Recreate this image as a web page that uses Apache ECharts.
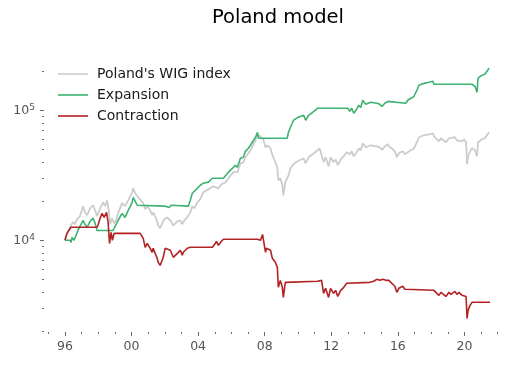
<!DOCTYPE html>
<html><head><meta charset="utf-8">
<script src="https://cdn.jsdelivr.net/npm/echarts@6/dist/echarts.min.js"></script>
<style>html,body{margin:0;padding:0;background:#fff}#c{width:523px;height:366px}</style>
</head><body><div id="c"></div>
<script>
// ---- data ----
const wigYears = [1996.00,1996.12,1996.24,1996.36,1996.48,1996.60,1996.72,1996.90,1997.08,1997.20,1997.33,1997.51,1997.69,1997.81,1997.93,1998.11,1998.29,1998.41,1998.53,1998.65,1998.71,1998.83,1998.95,1999.07,1999.19,1999.43,1999.61,1999.80,2000.04,2000.10,2000.22,2000.40,2000.52,2000.70,2000.82,2000.94,2001.12,2001.24,2001.30,2001.42,2001.54,2001.60,2001.72,2001.84,2001.96,2002.14,2002.33,2002.51,2002.63,2002.75,2002.93,2003.05,2003.17,2003.35,2003.53,2003.65,2003.77,2003.95,2004.13,2004.31,2004.49,2004.73,2004.86,2005.04,2005.22,2005.40,2005.52,2005.64,2005.82,2005.94,2006.12,2006.24,2006.36,2006.54,2006.72,2006.84,2007.02,2007.14,2007.33,2007.45,2007.57,2007.63,2007.75,2007.87,2007.93,2008.05,2008.17,2008.35,2008.46,2008.52,2008.64,2008.76,2008.82,2008.94,2009.06,2009.12,2009.24,2009.35,2009.43,2009.55,2009.73,2009.98,2010.10,2010.34,2010.46,2010.64,2010.88,2011.18,2011.30,2011.42,2011.54,2011.66,2011.84,2011.96,2012.14,2012.26,2012.39,2012.57,2012.75,2012.93,2013.05,2013.11,2013.23,2013.35,2013.53,2013.65,2013.77,2013.89,2014.07,2014.19,2014.37,2014.49,2014.73,2014.92,2015.04,2015.22,2015.40,2015.46,2015.58,2015.70,2015.82,2015.94,2016.06,2016.18,2016.30,2016.42,2016.48,2016.60,2016.78,2016.96,2017.20,2017.27,2017.57,2017.87,2018.11,2018.17,2018.29,2018.47,2018.59,2018.71,2018.89,2019.07,2019.19,2019.43,2019.55,2019.67,2019.86,2019.98,2020.10,2020.16,2020.22,2020.34,2020.46,2020.52,2020.64,2020.76,2020.82,2021.05,2021.23,2021.48];
const wigValues = [10200,11300,12100,13000,13800,13300,14500,15300,18300,16400,15600,17600,18600,17000,15300,17600,19600,18300,20300,16400,13300,14800,13500,14200,16100,19300,18300,20300,23400,25100,23000,21400,21000,19300,17300,18300,17000,15600,16400,15300,14000,13000,12400,13500,14500,15000,14200,13000,12800,14000,14200,13300,14200,15000,16400,18300,17600,19600,20700,23400,24200,25100,26000,25600,25100,27000,27900,27900,30000,29500,33400,34600,33400,39100,39800,43500,46700,49200,54800,58800,64200,66500,63000,60900,58800,51900,53800,51000,45100,43500,39800,36400,28900,30000,26500,22200,27900,28900,31600,35800,38400,40500,39800,42700,39100,43500,45900,49200,51000,50100,39800,43500,37100,43500,39800,41900,37800,41900,44300,47500,48300,45900,48300,44300,47500,51000,49200,55700,51900,52800,53800,52800,52800,51900,49600,52800,54800,52800,52800,50100,48300,43500,46700,47500,48300,45900,45100,47500,49200,50600,58800,62000,64200,65300,66500,63000,60900,57700,60900,59800,56700,60900,58800,62000,58800,60900,57700,59800,56700,38400,44300,48300,51000,51900,49200,44300,56700,59800,60900,67700];

const expYears = [1996.00,1996.30,1996.36,1996.42,1996.54,1996.66,1996.78,1996.90,1997.08,1997.20,1997.33,1997.51,1997.69,1997.81,1997.93,1998.89,1999.01,1999.19,1999.43,1999.61,1999.80,2000.04,2000.10,2000.22,2000.34,2000.40,2002.02,2002.14,2002.26,2002.38,2002.45,2003.41,2003.53,2003.65,2003.77,2003.95,2004.13,2004.31,2004.61,2004.73,2004.86,2005.52,2005.64,2005.82,2005.94,2006.12,2006.24,2006.36,2006.54,2006.72,2006.84,2007.02,2007.14,2007.33,2007.45,2007.57,2007.63,2009.35,2009.43,2009.55,2009.73,2009.98,2010.10,2010.34,2010.46,2010.64,2010.88,2011.18,2012.99,2013.11,2013.23,2013.35,2013.53,2013.65,2013.77,2013.89,2014.07,2014.19,2014.37,2014.49,2014.73,2014.92,2015.04,2015.22,2015.40,2015.46,2016.48,2016.60,2016.78,2016.96,2017.20,2017.27,2017.57,2017.87,2018.11,2018.17,2020.46,2020.52,2020.64,2020.76,2020.82,2021.05,2021.23,2021.48];
const expValues = [10000,10000,9650,10500,10000,10900,11900,11700,14200,13300,12600,14000,14800,13500,11900,11900,12200,14200,16100,15000,17000,19600,21400,20700,18600,18300,18300,18900,17900,18600,18300,18300,20300,23000,22200,25100,26500,27500,28000,28900,30000,30000,30500,33400,32500,36400,37800,36400,42700,43500,48300,51000,53800,58800,62000,67700,60900,60900,67700,74000,83800,87800,85000,91500,83800,91500,96500,103600,103600,98000,103600,94800,101800,109300,105000,119400,111000,113200,115200,113200,113200,111000,107000,113200,117000,113200,113200,119400,123700,127000,147700,155700,161000,164200,167000,158500,158500,161000,152000,137600,176300,185800,189000,210400];

const conYears = [1996.00,1996.12,1996.20,1996.36,1997.93,1998.00,1998.11,1998.23,1998.35,1998.50,1998.59,1998.68,1998.77,1998.85,1998.95,2000.52,2000.70,2000.82,2000.94,2001.12,2001.24,2001.30,2001.42,2001.54,2001.60,2001.72,2001.84,2001.90,2002.02,2002.14,2002.33,2002.51,2002.63,2002.75,2002.93,2003.05,2003.11,2003.35,2003.53,2004.86,2005.04,2005.10,2005.22,2005.40,2005.52,2007.57,2007.63,2007.75,2007.87,2007.93,2008.05,2008.11,2008.23,2008.35,2008.46,2008.52,2008.64,2008.76,2008.82,2008.94,2009.06,2009.12,2009.24,2009.29,2011.18,2011.30,2011.42,2011.54,2011.66,2011.84,2011.96,2012.14,2012.26,2012.39,2012.57,2012.75,2012.93,2013.05,2014.31,2014.43,2014.55,2014.73,2014.92,2015.10,2015.28,2015.46,2015.58,2015.70,2015.82,2015.94,2016.06,2016.18,2016.30,2016.42,2016.48,2018.17,2018.29,2018.47,2018.59,2018.71,2018.89,2019.07,2019.19,2019.43,2019.55,2019.67,2019.86,2019.98,2020.10,2020.16,2020.22,2020.34,2020.46,2021.54];
const conValues = [10000,11300,11000,12600,12600,13300,14800,16100,15000,16400,13800,9480,11500,10000,11300,11300,10350,8835,9480,8680,8085,8680,7940,7270,6770,6420,7020,7400,8680,8680,8380,7400,7270,7940,8380,7665,8085,8680,8835,8835,9480,9830,9150,9830,10200,10200,10500,10000,11100,10000,8085,8680,8380,8380,7270,7020,6770,6200,4350,4920,4350,3640,4750,4840,4840,5010,4920,3910,4275,3640,4275,3910,4125,3700,4125,4350,4670,4750,4750,4590,4840,5010,4920,5010,4920,4920,4840,4590,4430,3980,4275,4350,4430,4200,4125,4125,3980,3775,3980,3910,3700,3980,3840,4050,3840,3980,3775,3910,3700,2510,2890,3160,3335,3335];

const seriesNames = ["Poland's WIG index", "Expansion", "Contraction"];
const xMajorTicks = [1996, 2000, 2004, 2008, 2012, 2016, 2020];
const xMinorTicks = [1995,1996,1997,1998,1999,2000,2001,2002,2003,2004,2005,2006,2007,2008,2009,2010,2011,2012,2013,2014,2015,2016,2017,2018,2019,2020,2021,2022];
const yMajorTicks = [10000, 100000];
const yMinorTicks = [2000,3000,4000,5000,6000,7000,8000,9000,20000,30000,40000,50000,60000,70000,80000,90000,200000];
const titleText = 'Poland model';

// ---- chart ----
const FONT = 'DejaVu Sans';
const xMin = 1994.74, xMax = 2022.86, yMin = 1972, yMax = 266000;
const pair = (xs, vs) => xs.map((x, i) => [x, vs[i]]);

const chart = echarts.init(document.getElementById('c'), null, {renderer: 'canvas'});
const tickColor = '#6b6b6b';
const labelColor = '#555555';
const baseX = {type: 'value', min: xMin, max: xMax, position: 'bottom',
  axisLine: {show: false}, splitLine: {show: false}};
const baseY = {type: 'log', logBase: 10, min: yMin, max: yMax, position: 'left',
  axisLine: {show: false}, splitLine: {show: false}};

chart.setOption({
  animation: false,
  backgroundColor: '#ffffff',
  textStyle: {fontFamily: FONT},
  title: {text: titleText, left: 'center', top: 8, padding: 0, textAlign: 'left',
    textStyle: {fontFamily: FONT, fontSize: 19.5, fontWeight: 'normal', color: '#000'}},
  legend: {orient: 'vertical', left: 58, top: 67, padding: 0, itemGap: 7,
    itemWidth: 30, itemHeight: 1.6, icon: 'rect', data: seriesNames,
    textStyle: {fontFamily: FONT, fontSize: 14, color: '#1a1a1a', padding: [0, 0, 0, 4]}},
  grid: {left: 44, right: 11, top: 55, bottom: 34, containLabel: false, outerBoundsMode: 'none'},
  xAxis: [
    Object.assign({}, baseX, {
      axisTick: {show: true, customValues: xMajorTicks, length: 4, lineStyle: {color: tickColor, width: 1}},
      axisLabel: {customValues: xMajorTicks, margin: 8, fontFamily: FONT, fontSize: 12.5, color: labelColor,
        formatter: v => String(Math.round(v) % 100).padStart(2, '0')}
    }),
    Object.assign({}, baseX, {
      axisTick: {show: true, customValues: xMinorTicks, length: 2, lineStyle: {color: tickColor, width: 1}},
      axisLabel: {show: false}
    })
  ],
  yAxis: [
    Object.assign({}, baseY, {
      axisTick: {show: true, customValues: yMajorTicks, length: 4, lineStyle: {color: tickColor, width: 1}},
      axisLabel: {customValues: yMajorTicks, margin: 9, color: labelColor,
        formatter: v => '{b|10}{s|' + Math.round(Math.log10(v)) + '}',
        rich: {
          b: {fontFamily: FONT, fontSize: 12.5, color: labelColor, lineHeight: 15},
          s: {fontFamily: FONT, fontSize: 9, color: labelColor, lineHeight: 10, verticalAlign: 'top'}
        }}
    }),
    Object.assign({}, baseY, {
      axisTick: {show: true, customValues: yMinorTicks, length: 2, lineStyle: {color: tickColor, width: 1}},
      axisLabel: {show: false}
    })
  ],
  series: [
    {name: seriesNames[0], type: 'line', data: pair(wigYears, wigValues), symbol: 'none', showSymbol: false,
      lineStyle: {color: '#cccccc', width: 1.8}, itemStyle: {color: '#cccccc'}, z: 1},
    {name: seriesNames[1], type: 'line', data: pair(expYears, expValues), symbol: 'none', showSymbol: false,
      lineStyle: {color: '#3cb371', width: 1.6}, itemStyle: {color: '#3cb371'}, z: 2},
    {name: seriesNames[2], type: 'line', data: pair(conYears, conValues), symbol: 'none', showSymbol: false,
      lineStyle: {color: '#b22222', width: 1.6}, itemStyle: {color: '#b22222'}, z: 3}
  ]
});
// centre the title over the plot area (plot spans x 44..512)
const tw = echarts.format.getTextRect ? null : null;
chart.setOption({title: {left: 278 - 66}});
</script>
</body></html>
